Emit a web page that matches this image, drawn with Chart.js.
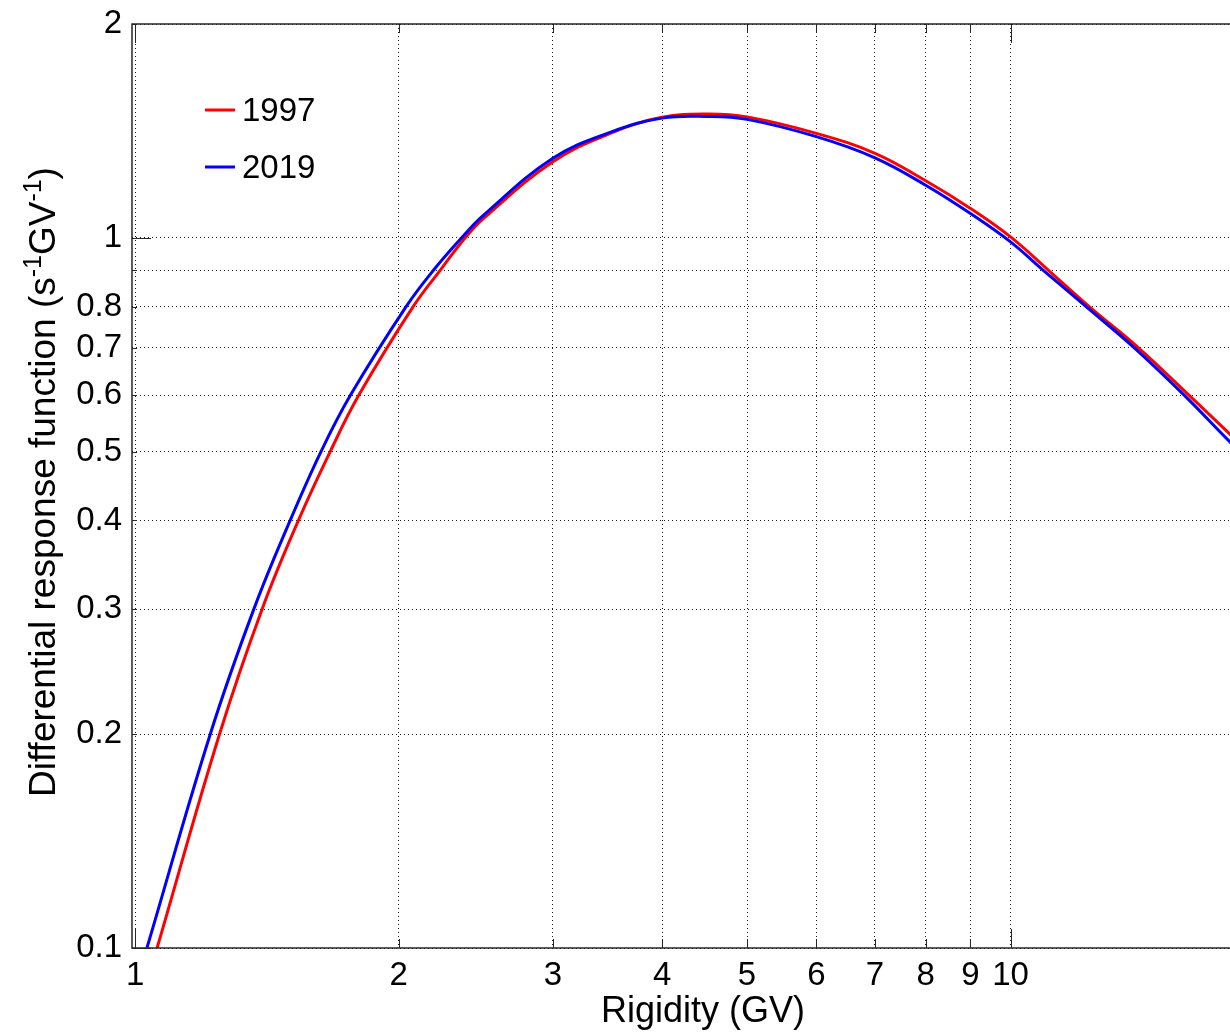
<!DOCTYPE html>
<html>
<head>
<meta charset="utf-8">
<script src="https://cdn.jsdelivr.net/npm/chart.js@4"></script>
<style>
html, body { margin: 0; padding: 0; background: #fff; overflow: hidden; }
canvas { display: block; }
</style>
</head>
<body>
<canvas id="drf_chart" width="1276" height="1033"></canvas>
<script>
// values (rigidity in GV, response in s^-1 GV^-1)
const rigidity1997 = [1.059, 1.248, 1.396, 1.536, 1.670, 1.800, 2.077, 2.230, 2.382, 2.5, 3, 3.5, 4, 4.5, 5, 6, 7, 8, 9, 10, 11.05, 12.30, 14.0, 16.0, 17.81, 20];
const response1997 = [0.100, 0.200, 0.300, 0.400, 0.500, 0.600, 0.800, 0.900, 1.000, 1.065, 1.280, 1.405, 1.478, 1.494, 1.480, 1.403, 1.315, 1.203, 1.100, 1.003, 0.900, 0.800, 0.700, 0.600, 0.529, 0.460];

const rigidity2019 = [1.031, 1.218, 1.366, 1.503, 1.630, 1.761, 2.039, 2.191, 2.360, 2.5, 3, 3.5, 4, 4.5, 5, 6, 7, 8, 9, 10, 10.90, 12.20, 13.85, 15.80, 17.81, 20];
const response2019 = [0.100, 0.200, 0.300, 0.400, 0.500, 0.600, 0.800, 0.900, 1.000, 1.076, 1.294, 1.410, 1.474, 1.482, 1.468, 1.388, 1.296, 1.186, 1.082, 0.987, 0.900, 0.800, 0.700, 0.600, 0.516, 0.449];

const seriesLabels = ['1997', '2019'];
const seriesColors = ['rgb(255, 0, 0)', 'rgb(0, 0, 255)'];

const xTickValues = [1, 2, 3, 4, 5, 6, 7, 8, 9, 10];
const xTickLabels = ['1', '2', '3', '4', '5', '6', '7', '8', '9', '10'];
const yTickValues = [0.1, 0.2, 0.3, 0.4, 0.5, 0.6, 0.7, 0.8, 0.9, 1, 2];
const yTickLabels = ['0.1', '0.2', '0.3', '0.4', '0.5', '0.6', '0.7', '0.8', '', '1', '2'];

const FONT = "'Liberation Sans', Arial, Helvetica, sans-serif";

function toPoints(xs, ys) {
	return xs.map(function(v, i) { return {x: v, y: ys[i]}; });
}

const data = {
	datasets: [
		{
			label: seriesLabels[0],
			data: toPoints(rigidity1997, response1997),
			borderColor: seriesColors[0],
			order: 1
		},
		{
			label: seriesLabels[1],
			data: toPoints(rigidity2019, response2019),
			borderColor: seriesColors[1],
			order: 0
		}
	]
};

function isDecade(v) {
	const l = Math.log10(v);
	return Math.abs(l - Math.round(l)) < 1e-9;
}

// matlab-like box, inward ticks, legend and axis titles
const matlabAxes = {
	id: 'matlabAxes',
	afterDraw: function(chart) {
		const ctx = chart.ctx;
		const a = chart.chartArea;
		const xs = chart.scales.x;
		const ys = chart.scales.y;
		ctx.save();

		ctx.strokeStyle = '#262626';
		ctx.lineWidth = 1;
		ctx.beginPath();
		xs.ticks.forEach(function(t) {
			const px = Math.round(xs.getPixelForValue(t.value)) + 0.5;
			const len = isDecade(t.value) ? 19 : 9;
			ctx.moveTo(px, a.bottom); ctx.lineTo(px, a.bottom - len);
			ctx.moveTo(px, a.top); ctx.lineTo(px, a.top + len);
		});
		ys.ticks.forEach(function(t) {
			const py = Math.round(ys.getPixelForValue(t.value)) + 0.5;
			const len = isDecade(t.value) ? 19 : 5;
			ctx.moveTo(a.left, py); ctx.lineTo(a.left + len, py);
			ctx.moveTo(a.right, py); ctx.lineTo(a.right - len, py);
		});
		ctx.stroke();

		ctx.lineWidth = 1.5;
		ctx.strokeRect(a.left, a.top, a.right - a.left, a.bottom - a.top);

		// legend
		ctx.font = '33px ' + FONT;
		ctx.textBaseline = 'middle';
		ctx.textAlign = 'left';
		chart.data.datasets.forEach(function(ds, i) {
			const ly = a.top + 86 + i * 57;
			ctx.strokeStyle = ds.borderColor;
			ctx.lineWidth = 3;
			ctx.beginPath();
			ctx.moveTo(a.left + 73, ly);
			ctx.lineTo(a.left + 103, ly);
			ctx.stroke();
			ctx.fillStyle = '#000';
			ctx.fillText(ds.label, a.left + 110, ly + 2);
		});

		// x title
		ctx.font = '36px ' + FONT;
		ctx.textAlign = 'center';
		ctx.textBaseline = 'alphabetic';
		ctx.fillText('Rigidity (GV)', (a.left + a.right) / 2, a.bottom + 74);

		// y title with superscripts
		const parts = [
			['Differential response function (s', false],
			['-1', true],
			['GV', false],
			['-1', true],
			[')', false]
		];
		const mainFont = '37px ' + FONT;
		const supFont = '25px ' + FONT;
		let total = 0;
		parts.forEach(function(p) {
			ctx.font = p[1] ? supFont : mainFont;
			total += ctx.measureText(p[0]).width;
		});
		ctx.translate(55, (a.top + a.bottom) / 2 - 4);
		ctx.rotate(-Math.PI / 2);
		ctx.textAlign = 'left';
		let cx = -total / 2;
		parts.forEach(function(p) {
			ctx.font = p[1] ? supFont : mainFont;
			ctx.fillText(p[0], cx, p[1] ? -14 : 0);
			cx += ctx.measureText(p[0]).width;
		});
		ctx.restore();
	}
};

const gridStyle = {
	color: 'rgba(0, 0, 0, 0.9)',
	lineWidth: 1,
	drawTicks: false
};

function noEdgePadding(scale) {
	scale.paddingTop = 0;
	scale.paddingBottom = 0;
	scale.paddingLeft = 0;
	scale.paddingRight = 0;
}

const config = {
	type: 'line',
	data: data,
	options: {
		responsive: false,
		animation: false,
		devicePixelRatio: 1,
		layout: {
			padding: {top: 24, right: 2, left: 0, bottom: 0}
		},
		elements: {
			point: {radius: 0},
			line: {borderWidth: 3, tension: 0.4, fill: false}
		},
		scales: {
			x: {
				type: 'logarithmic',
				position: 'bottom',
				min: 0.9914,
				max: 20,
				grid: gridStyle,
				border: {display: false, dash: [1, 3]},
				afterBuildTicks: function(scale) {
					scale.ticks = xTickValues.map(function(v) { return {value: v}; });
				},
				afterFit: function(scale) {
					scale.height = 85;
					noEdgePadding(scale);
				},
				ticks: {
					color: '#000',
					padding: 8,
					maxRotation: 0,
					autoSkip: false,
					font: {family: FONT, size: 33},
					callback: function(value, index) {
						return xTickLabels[index];
					}
				}
			},
			y: {
				type: 'logarithmic',
				position: 'left',
				min: 0.1,
				max: 2,
				grid: gridStyle,
				border: {display: false, dash: [1, 3]},
				afterBuildTicks: function(scale) {
					scale.ticks = yTickValues.map(function(v) { return {value: v}; });
				},
				afterFit: function(scale) {
					scale.width = 132;
					noEdgePadding(scale);
				},
				ticks: {
					color: '#000',
					padding: 10,
					autoSkip: false,
					font: {family: FONT, size: 33},
					callback: function(value, index) {
						return yTickLabels[index];
					}
				}
			}
		},
		plugins: {
			legend: {display: false},
			tooltip: {enabled: false}
		}
	},
	plugins: [matlabAxes]
};

var cv = document.getElementById('drf_chart');
var ctx = cv.getContext('2d');
var chart = new Chart(ctx, config);
</script>
</body>
</html>
